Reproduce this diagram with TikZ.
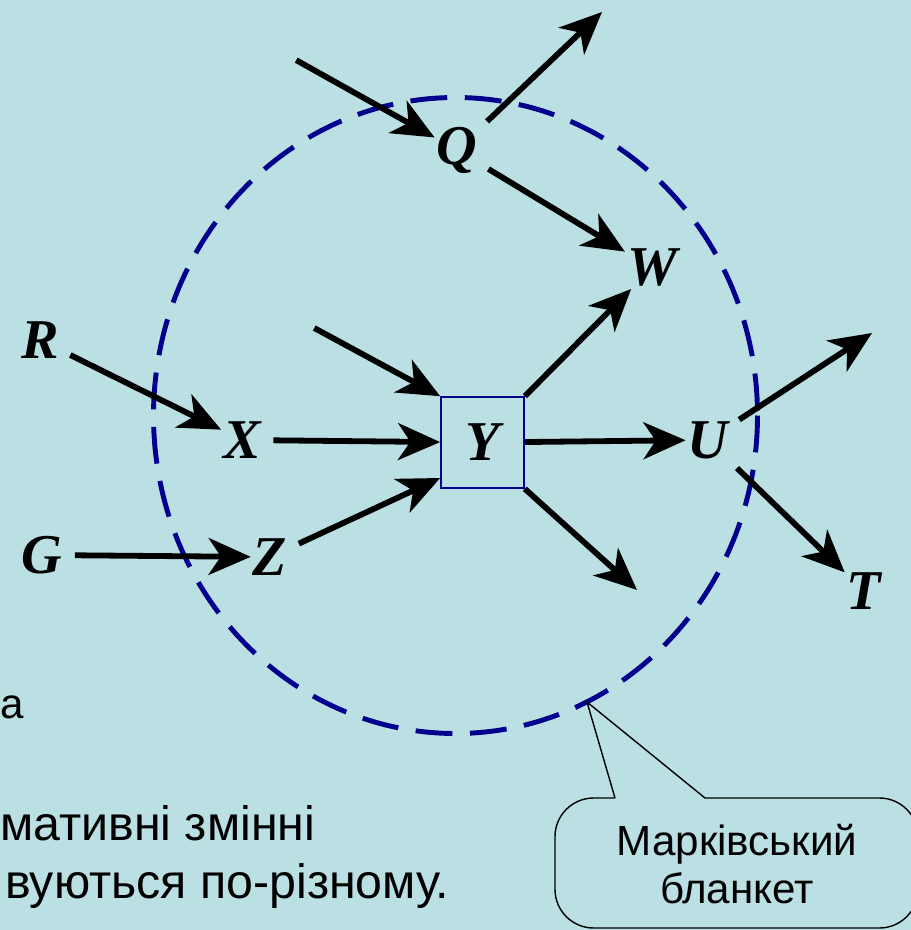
\documentclass[tikz,border=0pt]{standalone}
\usepackage{fontspec}
\setmainfont{Liberation Serif}
\newfontfamily\arialfont{Liberation Sans}
\usetikzlibrary{arrows.meta,positioning,calc}
\definecolor{bgblue}{RGB}{187,224,227}
\definecolor{blanket}{RGB}{0,0,140}

\begin{document}
\begin{tikzpicture}[x=0.02cm,y=-0.02cm,>={Stealth[length=24pt,width=21pt,inset=7pt]},
  var/.style={inner sep=1pt,font=\fontsize{32}{36}\selectfont\bfseries\itshape},
  arr/.style={->,line width=3.3pt,shorten <=6pt},
  note/.style={font=\arialfont\fontsize{24}{27.5}\selectfont},
  body/.style={inner sep=0pt,anchor=base west,font=\arialfont\fontsize{27.5}{33}\selectfont}]
\clip (0,0) rectangle (911,930);
\fill[bgblue] (0,0) rectangle (911,930);
% markov blanket
\draw[blanket,line width=2.8pt,dash pattern=on 21pt off 10pt] (455.5,415.5) ellipse [x radius=302,y radius=318];
% variables
\node[var,draw=blanket,line width=0.9pt,minimum width=1.66cm,minimum height=1.82cm] (Y) at (482.5,442.5) {Y};
\node[var] (Q) at (457,150) {Q};
\node[var] (W) at (652,268) {W};
\node[var] (R) at (40,340) {R};
\node[var] (X) at (242,440) {X};
\node[var] (Z) at (270,557) {Z};
\node[var] (G) at (42,555) {G};
\node[var] (U) at (708,440) {U};
\node[var] (T) at (864,591) {T};
% free ends
\coordinate (q1) at (287,55);
\coordinate (q2) at (602,12);
\coordinate (y1) at (305,323);
\coordinate (y2) at (637,590);
\coordinate (u1) at (872,333);
\coordinate (mb) at (587,702);
% arcs
\draw[arr] (q1) -- (Q); \draw[arr] (Q) -- (q2); \draw[arr] (Q) -- (W);
\draw[arr] (R) -- (X); \draw[arr] (X) -- (Y); \draw[arr] (G) -- (Z);
\draw[arr] (Z) -- (Y.220); \draw[arr] (y1) -- (Y.north west);
\draw[arr,shorten <=0pt] (Y.north east) -- (W); \draw[arr,shorten <=0pt] (Y.south east) -- (y2);
\draw[arr,shorten <=0pt] (Y) -- (U); \draw[arr] (U) -- (u1); \draw[arr] (U) -- (T);
% callout
\draw[line width=0.8pt] (615,798) -- (mb) -- (705,798) [rounded corners=22pt] -- (918,798) -- (918,928) -- (555,928) -- (555,798) -- (615,798);
\node[note,align=center] (blanket) at (737,864) {Марківський\\бланкет};
% text at the left
\node[note,inner sep=0pt,anchor=base west] (t0) at (0,718) {а};
\node[body] (t1) at (0,840) {мативні змінні};
\node[body] (t2) at (5,898) {вуються по-різному.};
\end{tikzpicture}
\end{document}
